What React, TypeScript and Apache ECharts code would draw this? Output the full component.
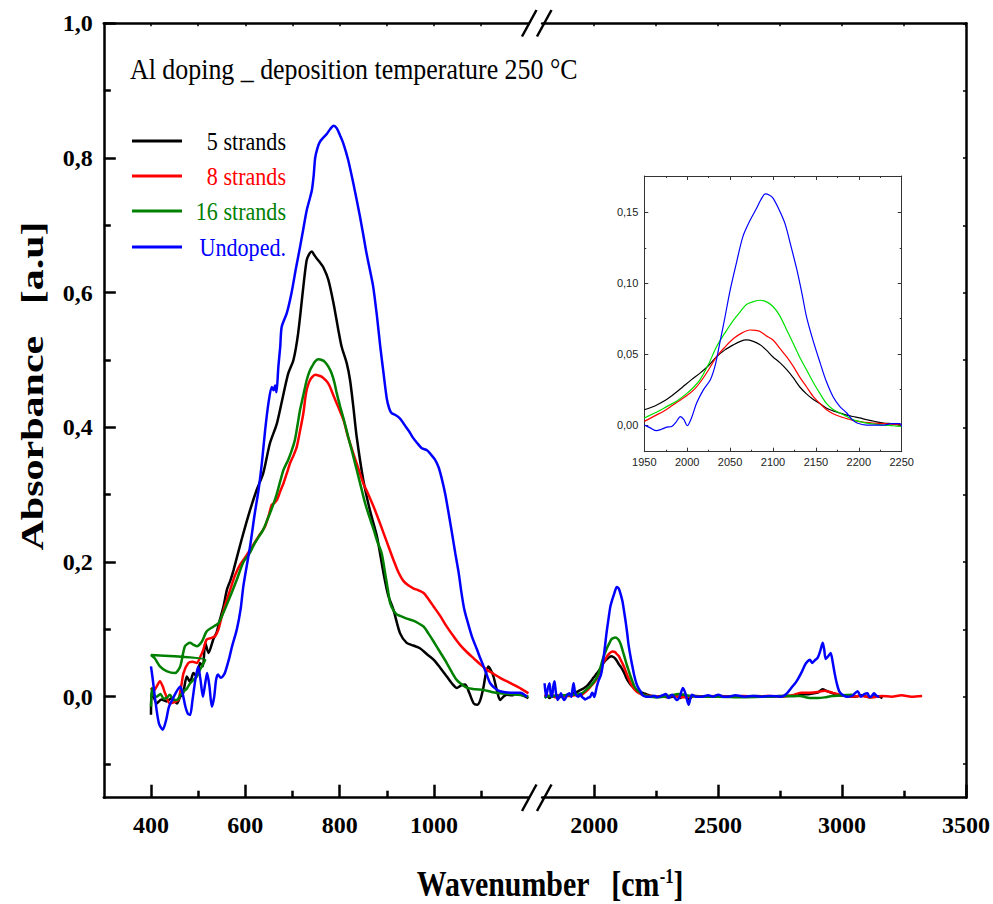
import React, { useEffect, useRef } from "react";
import * as echarts from "echarts";

// ---------- names / colours ----------
const seriesNames = ["5 strands", "8 strands", "16 strands", "Undoped."];
const mainColors = ["#000000", "#ff0000", "#008000", "#0000ff"];
const insetColors = ["#000000", "#ff0000", "#00e000", "#0000ff"];

// ---------- tick values ----------
const yMainTicks = [0, 0.2, 0.4, 0.6, 0.8, 1.0];
const yMainMinor = [-0.1, 0.1, 0.3, 0.5, 0.7, 0.9];
const xLeftTicks = [400, 600, 800, 1000];
const xLeftMinor = [500, 700, 900, 1100];
const xRightTicks = [2000, 2500, 3000, 3500];
const xRightMinor = [2250, 2750, 3250];
const insetYTicks = [0, 0.05, 0.1, 0.15];
const insetYMinor = [0.025, 0.075, 0.125];

// ---------- 5 strands ----------
const s5Left: [number, number][] = [
  [400, -0.027], [402, 0.008], [412, -0.01], [422, -0.004], [433, -0.007], [444, -0.002], [455, -0.01],
  [462, 0.0], [468, 0.005], [476, 0.03], [483, 0.022], [490, 0.035], [497, 0.03], [504, 0.05], [510, 0.045],
  [515, 0.08], [522, 0.065], [532, 0.085], [539, 0.095], [546, 0.114], [554, 0.135], [561, 0.159], [568, 0.172],
  [575, 0.188], [592, 0.233], [610, 0.277], [624, 0.307], [638, 0.332], [652, 0.376], [667, 0.406], [681, 0.45],
  [691, 0.48], [702, 0.5], [712, 0.54], [723, 0.609], [730, 0.648], [736, 0.658], [741, 0.661], [746, 0.656],
  [751, 0.651], [758, 0.645], [765, 0.638], [776, 0.619], [787, 0.584], [797, 0.545], [804, 0.52], [815, 0.495],
  [822, 0.47], [829, 0.43], [836, 0.386], [850, 0.322], [864, 0.277], [879, 0.238], [893, 0.183], [903, 0.15],
  [914, 0.129], [928, 0.094], [942, 0.08], [956, 0.076], [970, 0.072], [985, 0.063], [999, 0.055], [1013, 0.043],
  [1027, 0.03], [1040, 0.018], [1048, 0.013], [1058, 0.017], [1066, 0.018], [1075, 0.005], [1084, -0.01],
  [1091, -0.012], [1098, -0.005], [1105, 0.015], [1110, 0.035], [1115, 0.045], [1120, 0.04], [1126, 0.03],
  [1133, 0.01], [1140, -0.005], [1147, 0.0], [1154, 0.003], [1165, 0.002], [1175, 0.005], [1188, 0.002], [1200, -0.002],
];
const s5RightPre: [number, number][] = [
  [1800, 0.0], [1810, 0.002], [1820, -0.002], [1830, 0.001], [1840, 0.0], [1850, 0.002], [1860, -0.001],
  [1870, 0.002], [1880, 0.001], [1890, 0.003], [1900, 0.002], [1913, 0.005], [1925, 0.006], [1940, 0.009],
];
const s5Band: [number, number][] = [
  [1950, 0.0108], [1964, 0.014], [1976, 0.018], [1985, 0.022], [1995, 0.027], [2005, 0.032], [2015, 0.0366],
  [2025, 0.042], [2034, 0.048], [2044, 0.053], [2054, 0.0566], [2062, 0.059], [2069, 0.06], [2077, 0.059],
  [2085, 0.0566], [2092, 0.053], [2100, 0.048], [2108, 0.044], [2116, 0.039], [2124, 0.033], [2131, 0.027],
  [2139, 0.022], [2147, 0.018], [2155, 0.015], [2162, 0.012], [2170, 0.01], [2178, 0.0085], [2186, 0.007],
  [2193, 0.006], [2201, 0.005], [2209, 0.0038], [2219, 0.0025], [2229, 0.0014], [2240, 0.001], [2250, 0.0],
];
const s5RightPost: [number, number][] = [
  [2270, 0.001], [2300, -0.001], [2330, 0.001], [2348, -0.002], [2360, 0.003], [2381, -0.004], [2400, 0.001],
  [2450, 0.0], [2500, 0.001], [2550, 0.0], [2600, 0.0], [2650, 0.001], [2700, 0.0], [2750, 0.001], [2800, 0.001],
  [2840, 0.003], [2870, 0.004], [2902, 0.006], [2922, 0.011], [2935, 0.009], [2950, 0.007], [2970, 0.004],
  [2990, 0.002], [3020, 0.001], [3050, 0.0], [3080, 0.002], [3110, -0.001], [3140, 0.001], [3163, -0.002],
];

// ---------- 8 strands ----------
const s8Left: [number, number][] = [
  [400, 0.013], [405, 0.008], [412, 0.015], [419, 0.023], [425, 0.015], [430, 0.005], [440, -0.01], [450, -0.008],
  [458, -0.005], [464, 0.015], [469, 0.035], [479, 0.05], [488, 0.052], [497, 0.05], [505, 0.06], [511, 0.07],
  [518, 0.085], [527, 0.087], [536, 0.09], [543, 0.1], [550, 0.119], [559, 0.14], [568, 0.159], [578, 0.18],
  [589, 0.196], [600, 0.207], [610, 0.218], [620, 0.229], [628, 0.238], [635, 0.245], [642, 0.253], [650, 0.27],
  [656, 0.285], [662, 0.288], [667, 0.292], [674, 0.305], [681, 0.317], [688, 0.332], [695, 0.347], [702, 0.358],
  [709, 0.371], [716, 0.395], [723, 0.421], [729, 0.452], [737, 0.47], [748, 0.478], [755, 0.477], [762, 0.475],
  [776, 0.465], [787, 0.447], [797, 0.43], [808, 0.411], [818, 0.385], [829, 0.361], [840, 0.338], [850, 0.317],
  [861, 0.3], [872, 0.282], [883, 0.262], [893, 0.243], [904, 0.222], [914, 0.203], [925, 0.184], [935, 0.172],
  [946, 0.165], [956, 0.161], [967, 0.158], [978, 0.154], [988, 0.145], [999, 0.134], [1013, 0.12], [1027, 0.104],
  [1041, 0.09], [1055, 0.077], [1070, 0.066], [1084, 0.057], [1098, 0.048], [1112, 0.04], [1126, 0.034],
  [1140, 0.028], [1154, 0.023], [1168, 0.018], [1184, 0.012], [1200, 0.005],
];
const s8RightPre: [number, number][] = [
  [1800, 0.003], [1815, 0.001], [1830, 0.002], [1845, -0.001], [1860, 0.002], [1875, 0.0], [1890, 0.001],
  [1905, 0.001], [1920, 0.002], [1935, 0.002], [1945, 0.002],
];
const s8Band: [number, number][] = [
  [1950, 0.0026], [1964, 0.007], [1976, 0.011], [1988, 0.016], [2000, 0.021], [2008, 0.025], [2015, 0.03],
  [2025, 0.039], [2034, 0.048], [2044, 0.055], [2054, 0.061], [2064, 0.065], [2073, 0.067], [2080, 0.0668],
  [2085, 0.066], [2092, 0.063], [2100, 0.06], [2108, 0.054], [2116, 0.048], [2124, 0.041], [2131, 0.034],
  [2139, 0.027], [2147, 0.02], [2155, 0.015], [2162, 0.011], [2170, 0.008], [2178, 0.006], [2186, 0.0045],
  [2193, 0.0033], [2205, 0.002], [2217, 0.0014], [2230, 0.001], [2250, 0.0],
];
const s8RightPost: [number, number][] = [
  [2280, 0.0], [2320, 0.001], [2360, -0.001], [2400, 0.001], [2450, 0.0], [2500, 0.001], [2550, 0.0],
  [2600, 0.001], [2650, 0.0], [2700, 0.001], [2750, 0.0], [2800, 0.002], [2834, 0.006], [2870, 0.006],
  [2902, 0.007], [2929, 0.009], [2950, 0.007], [2969, 0.005], [3000, 0.002], [3040, 0.0], [3080, 0.001],
  [3120, -0.001], [3160, 0.001], [3200, 0.0], [3240, 0.002], [3280, 0.0], [3323, 0.001],
];

// ---------- 16 strands ----------
const s16Left: [number, number][] = [
  [400, -0.015], [402, 0.013], [406, 0.002], [412, 0.0], [420, 0.004], [427, -0.003], [433, -0.002], [440, 0.003],
  [447, -0.004], [455, -0.005], [462, 0.002], [469, 0.008], [476, 0.012], [483, 0.02], [490, 0.025], [497, 0.03],
  [504, 0.04], [510, 0.048], [515, 0.055],
  [400, 0.062], [408, 0.057], [419, 0.045], [433, 0.038], [451, 0.035], [462, 0.045], [472, 0.075], [483, 0.08],
  [490, 0.077], [497, 0.075], [508, 0.082], [518, 0.097], [532, 0.104], [543, 0.109], [553, 0.124], [568, 0.149],
  [582, 0.174], [596, 0.2], [610, 0.214], [620, 0.228], [629, 0.238], [638, 0.248], [645, 0.26], [652, 0.272],
  [660, 0.287], [667, 0.302], [674, 0.32], [681, 0.337], [691, 0.352], [698, 0.365], [705, 0.381], [711, 0.405],
  [716, 0.426], [723, 0.448], [730, 0.47], [736, 0.483], [741, 0.49], [748, 0.498], [755, 0.501], [762, 0.5],
  [769, 0.497], [776, 0.49], [783, 0.48], [789, 0.466], [794, 0.45], [801, 0.431], [810, 0.408], [818, 0.386],
  [827, 0.362], [836, 0.337], [845, 0.312], [854, 0.287], [863, 0.267], [872, 0.248], [880, 0.23], [889, 0.213],
  [896, 0.185], [903, 0.155], [907, 0.139], [914, 0.128], [921, 0.122], [928, 0.12], [942, 0.116], [956, 0.113],
  [967, 0.109], [978, 0.104], [988, 0.094], [999, 0.082], [1013, 0.066], [1027, 0.05], [1038, 0.036],
  [1048, 0.025], [1059, 0.018], [1070, 0.013], [1088, 0.011], [1105, 0.01], [1122, 0.007], [1140, 0.005],
  [1158, 0.004], [1175, 0.003], [1188, 0.002], [1200, 0.0],
];
const s16RightPre: [number, number][] = [
  [1800, -0.002], [1815, 0.001], [1830, 0.0], [1845, 0.002], [1860, 0.001], [1875, 0.002], [1890, 0.002],
  [1905, 0.003], [1920, 0.003], [1935, 0.004], [1945, 0.0045],
];
const s16Band: [number, number][] = [
  [1950, 0.005], [1964, 0.009], [1976, 0.013], [1988, 0.017], [2000, 0.0225], [2008, 0.027], [2015, 0.032],
  [2025, 0.043], [2034, 0.055], [2044, 0.065], [2054, 0.074], [2062, 0.08], [2069, 0.085], [2077, 0.087],
  [2085, 0.088], [2092, 0.087], [2100, 0.0836], [2108, 0.077], [2116, 0.067], [2124, 0.057], [2131, 0.048],
  [2139, 0.039], [2147, 0.03], [2155, 0.022], [2162, 0.0155], [2170, 0.011], [2178, 0.0085], [2186, 0.006],
  [2193, 0.0038], [2201, 0.0025], [2209, 0.0014], [2219, 0.0006], [2229, 0.0], [2240, -0.0005], [2250, -0.001],
];
const s16RightPost: [number, number][] = [
  [2280, 0.0], [2310, 0.002], [2340, 0.004], [2360, 0.003], [2390, 0.001], [2430, 0.0], [2500, 0.0],
  [2600, -0.001], [2700, 0.0], [2780, 0.001], [2830, 0.001], [2870, -0.002], [2902, -0.002], [2930, -0.001],
  [2960, 0.001], [3000, 0.002], [3042, 0.003],
];

// ---------- Undoped ----------
const undLeft: [number, number][] = [
  [400, 0.045], [403, 0.03], [410, -0.01], [417, -0.04], [425, -0.049], [432, -0.035], [438, -0.015], [445, -0.005],
  [452, 0.005], [458, 0.012], [462, 0.015], [467, 0.005], [473, -0.015], [478, -0.025], [483, -0.027],
  [488, -0.005], [494, 0.025], [500, 0.045], [505, 0.025], [510, 0.0], [515, 0.02], [519, 0.035], [524, 0.015],
  [529, -0.015], [534, 0.0], [538, 0.025], [542, 0.033], [548, 0.028], [552, 0.03], [557, 0.036], [565, 0.055],
  [572, 0.075], [582, 0.1], [590, 0.13], [596, 0.165], [610, 0.223], [620, 0.272], [628, 0.307], [635, 0.347],
  [642, 0.396], [649, 0.436], [656, 0.46], [660, 0.455], [663, 0.462], [666, 0.452], [670, 0.49], [674, 0.52],
  [677, 0.549], [688, 0.57], [698, 0.6], [707, 0.635], [716, 0.668], [723, 0.695], [730, 0.722], [736, 0.738],
  [741, 0.752], [745, 0.775], [748, 0.8], [753, 0.815], [758, 0.824], [765, 0.83], [773, 0.836], [780, 0.843],
  [787, 0.848], [794, 0.844], [801, 0.833], [808, 0.821], [818, 0.797], [829, 0.762], [836, 0.738], [843, 0.713],
  [850, 0.686], [857, 0.658], [864, 0.634], [871, 0.609], [879, 0.565], [886, 0.52], [893, 0.48], [900, 0.442],
  [905, 0.428], [910, 0.421], [919, 0.418], [928, 0.413], [935, 0.406], [942, 0.399], [949, 0.392], [956, 0.384],
  [965, 0.376], [974, 0.369], [985, 0.366], [993, 0.36], [1002, 0.352], [1010, 0.34], [1017, 0.322], [1024, 0.3],
  [1031, 0.272], [1038, 0.243], [1045, 0.213], [1052, 0.185], [1058, 0.155], [1064, 0.13], [1070, 0.114],
  [1080, 0.09], [1091, 0.07], [1098, 0.057], [1105, 0.045], [1112, 0.032], [1119, 0.02], [1130, 0.012],
  [1140, 0.008], [1161, 0.006], [1183, 0.006], [1197, 0.0],
];
const undRightPre: [number, number][] = [
  [1800, 0.02], [1806, 0.0], [1813, 0.012], [1820, 0.02], [1825, 0.003], [1830, 0.0], [1835, 0.015], [1840, 0.023],
  [1846, 0.005], [1853, -0.005], [1860, 0.0], [1866, 0.005], [1873, -0.002], [1880, -0.005], [1890, 0.002],
  [1900, 0.005], [1908, 0.0], [1913, 0.012], [1917, 0.02], [1922, 0.008], [1927, 0.003], [1937, 0.0], [1945, 0.004],
];
const undBand: [number, number][] = [
  [1950, 0.0], [1957, -0.002], [1964, -0.004], [1970, -0.003], [1976, -0.0015], [1982, -0.001], [1987, 0.002],
  [1992, 0.006], [1996, 0.004], [2000, -0.0005], [2005, 0.005], [2011, 0.0155], [2019, 0.025], [2027, 0.032],
  [2033, 0.043], [2038, 0.058], [2044, 0.076], [2050, 0.095], [2058, 0.116], [2065, 0.133], [2073, 0.144],
  [2081, 0.153], [2086, 0.159], [2091, 0.163], [2096, 0.162], [2100, 0.16], [2107, 0.152], [2114, 0.142],
  [2121, 0.126], [2128, 0.109], [2134, 0.092], [2139, 0.0765], [2147, 0.059], [2155, 0.0437], [2162, 0.031],
  [2170, 0.02], [2178, 0.013], [2186, 0.0085], [2192, 0.004], [2198, 0.0014], [2209, 0.0], [2219, 0.0],
  [2229, 0.0], [2238, 0.001], [2248, 0.001], [2250, -0.001],
];
const undRightPost: [number, number][] = [
  [2270, 0.001], [2290, 0.004], [2300, -0.002], [2314, 0.003], [2334, -0.005], [2345, 0.0], [2358, 0.013],
  [2368, 0.005], [2381, -0.012], [2394, 0.003], [2410, 0.0], [2434, 0.0], [2460, 0.002], [2480, 0.0],
  [2501, 0.003], [2520, 0.0], [2541, 0.0], [2570, 0.002], [2608, 0.0], [2640, 0.001], [2675, 0.0], [2710, 0.001],
  [2755, 0.0], [2775, 0.004], [2795, 0.013], [2815, 0.022], [2835, 0.035], [2850, 0.047], [2860, 0.052],
  [2870, 0.055], [2880, 0.05], [2890, 0.054], [2902, 0.058], [2912, 0.068], [2922, 0.08], [2928, 0.07],
  [2934, 0.056], [2944, 0.06], [2954, 0.065], [2962, 0.052], [2970, 0.035], [2980, 0.018], [2990, 0.007],
  [3005, 0.002], [3022, 0.0], [3040, 0.001], [3063, 0.008], [3076, 0.0], [3090, 0.004], [3103, 0.005],
  [3110, 0.0], [3116, 0.0], [3129, 0.005], [3140, 0.001], [3150, 0.0],
];

const leftSets = [s5Left, s8Left, s16Left, undLeft];
const rightSets = [
  [...s5RightPre, ...s5Band, ...s5RightPost],
  [...s8RightPre, ...s8Band, ...s8RightPost],
  [...s16RightPre, ...s16Band, ...s16RightPost],
  [...undRightPre, ...undBand, ...undRightPost],
];
const bandSets = [s5Band, s8Band, s16Band, undBand];

const SERIF = "Liberation Serif";
const SANS = "Liberation Sans";
const Y_MIN = -0.15;
const Y_MAX = 1.0;
const IN_Y_MIN = -0.0188;
const IN_Y_MAX = 0.1756;

const comma1 = (v: number) => v.toFixed(1).replace(".", ",");
const comma2 = (v: number) => v.toFixed(2).replace(".", ",");
const plain = (v: number) => String(Math.round(v));

export default function App() {
  const ref = useRef<HTMLDivElement>(null);
  useEffect(() => {
    if (!ref.current) return;
    const chart = echarts.init(ref.current, undefined, { renderer: "svg" });
    const frame = { show: true, onZero: false, lineStyle: { color: "#000", width: 2.5 } };
    const noLine = { show: false, onZero: false };
    const mainLabel = { fontFamily: SERIF, fontSize: 24, fontWeight: "bold", color: "#000" };
    const inFrame = { show: true, onZero: false, lineStyle: { color: "#333", width: 1 } };
    const inTick = (vals: number[] | null, len: number) => ({
      show: true, inside: true, length: len, lineStyle: { color: "#333", width: 1 },
      ...(vals ? { customValues: vals } : {}),
    });

    const xAxis: any[] = [
      // 0 grid0 bottom major
      { type: "value", gridIndex: 0, position: "bottom", min: 300, max: 1200, axisLine: frame, splitLine: { show: false },
        axisTick: { show: true, inside: true, length: 13, customValues: xLeftTicks, lineStyle: { color: "#000", width: 2.5 } },
        axisLabel: { ...mainLabel, customValues: xLeftTicks, formatter: plain, margin: 15 } },
      // 1 grid0 bottom minor
      { type: "value", gridIndex: 0, position: "bottom", min: 300, max: 1200, axisLine: noLine, splitLine: { show: false },
        axisTick: { show: true, inside: true, length: 7, customValues: xLeftMinor, lineStyle: { color: "#000", width: 2.5 } },
        axisLabel: { show: false } },
      // 2 grid0 top
      { type: "value", gridIndex: 0, position: "top", min: 300, max: 1200, axisLine: frame, splitLine: { show: false },
        axisTick: { show: true, inside: true, length: 3, customValues: [...xLeftTicks, ...xLeftMinor], lineStyle: { color: "#000", width: 1.5 } },
        axisLabel: { show: false } },
      // 3 grid1 bottom major
      { type: "value", gridIndex: 1, position: "bottom", min: 1790, max: 3500, axisLine: frame, splitLine: { show: false },
        axisTick: { show: true, inside: true, length: 13, customValues: xRightTicks, lineStyle: { color: "#000", width: 2.5 } },
        axisLabel: { ...mainLabel, customValues: xRightTicks, formatter: plain, margin: 15 } },
      // 4 grid1 bottom minor
      { type: "value", gridIndex: 1, position: "bottom", min: 1790, max: 3500, axisLine: noLine, splitLine: { show: false },
        axisTick: { show: true, inside: true, length: 7, customValues: xRightMinor, lineStyle: { color: "#000", width: 2.5 } },
        axisLabel: { show: false } },
      // 5 grid1 top
      { type: "value", gridIndex: 1, position: "top", min: 1790, max: 3500, axisLine: frame, splitLine: { show: false },
        axisTick: { show: true, inside: true, length: 3, customValues: [...xRightTicks, ...xRightMinor], lineStyle: { color: "#000", width: 1.5 } },
        axisLabel: { show: false } },
      // 6 inset bottom
      { type: "value", gridIndex: 2, position: "bottom", min: 1950, max: 2250, interval: 50, axisLine: inFrame,
        splitLine: { show: false }, axisTick: inTick(null, 4),
        minorTick: { show: true, splitNumber: 2, length: 2, lineStyle: { color: "#333", width: 1 } },
        axisLabel: { fontFamily: SANS, fontSize: 11, color: "#222", margin: 5, formatter: plain, showMinLabel: true, showMaxLabel: true } },
      // 7 inset top
      { type: "value", gridIndex: 2, position: "top", min: 1950, max: 2250, interval: 50, axisLine: inFrame,
        splitLine: { show: false }, axisTick: inTick(null, 4),
        minorTick: { show: true, splitNumber: 2, length: 2, lineStyle: { color: "#333", width: 1 } },
        axisLabel: { show: false } },
    ];

    const yAxis: any[] = [
      // 0 grid0 left major
      { type: "value", gridIndex: 0, position: "left", min: Y_MIN, max: Y_MAX, axisLine: frame, splitLine: { show: false },
        axisTick: { show: true, inside: true, length: 12, customValues: yMainTicks, lineStyle: { color: "#000", width: 2.5 } },
        axisLabel: { ...mainLabel, customValues: yMainTicks, formatter: comma1, margin: 11 } },
      // 1 grid0 left minor
      { type: "value", gridIndex: 0, position: "left", min: Y_MIN, max: Y_MAX, axisLine: noLine, splitLine: { show: false },
        axisTick: { show: true, inside: true, length: 7, customValues: yMainMinor, lineStyle: { color: "#000", width: 2.5 } },
        axisLabel: { show: false } },
      // 2 grid1 right
      { type: "value", gridIndex: 1, position: "right", min: Y_MIN, max: Y_MAX, axisLine: frame, splitLine: { show: false },
        axisTick: { show: true, inside: true, length: 3, customValues: [...yMainTicks, ...yMainMinor], lineStyle: { color: "#000", width: 1.5 } },
        axisLabel: { show: false } },
      // 3 inset left major
      { type: "value", gridIndex: 2, position: "left", min: IN_Y_MIN, max: IN_Y_MAX, axisLine: inFrame, splitLine: { show: false },
        axisTick: inTick(insetYTicks, 4),
        axisLabel: { fontFamily: SANS, fontSize: 11, color: "#222", margin: 6, customValues: insetYTicks, formatter: comma2 } },
      // 4 inset left minor
      { type: "value", gridIndex: 2, position: "left", min: IN_Y_MIN, max: IN_Y_MAX, axisLine: noLine, splitLine: { show: false },
        axisTick: inTick(insetYMinor, 2), axisLabel: { show: false } },
      // 5 inset right major
      { type: "value", gridIndex: 2, position: "right", min: IN_Y_MIN, max: IN_Y_MAX, axisLine: inFrame, splitLine: { show: false },
        axisTick: inTick(insetYTicks, 4), axisLabel: { show: false } },
      // 6 inset right minor
      { type: "value", gridIndex: 2, position: "right", min: IN_Y_MIN, max: IN_Y_MAX, axisLine: noLine, splitLine: { show: false },
        axisTick: inTick(insetYMinor, 2), axisLabel: { show: false } },
    ];

    const series: any[] = [];
    seriesNames.forEach((name, i) => {
      series.push({
        name, type: "line", xAxisIndex: 0, yAxisIndex: 0, data: leftSets[i], symbol: "none", smooth: 0.25,
        lineStyle: { color: mainColors[i], width: 2.5 }, itemStyle: { color: mainColors[i] }, z: 2 + i,
      });
      series.push({
        name, type: "line", xAxisIndex: 3, yAxisIndex: 2, data: rightSets[i], symbol: "none", smooth: 0.25,
        lineStyle: { color: mainColors[i], width: 2.5 }, itemStyle: { color: mainColors[i] }, z: 2 + i,
      });
      series.push({
        name: name + " (inset)", type: "line", xAxisIndex: 6, yAxisIndex: 3, data: bandSets[i], symbol: "none", smooth: 0.3,
        lineStyle: { color: insetColors[i], width: 1.2 }, itemStyle: { color: insetColors[i] }, z: 2 + i,
      });
    });

    const legendY = [141, 176, 211, 247];
    const graphic: any[] = [
      {
        type: "text", x: 130, y: 70, scaleX: 0.893,
        style: { text: "Al doping _ deposition temperature 250 °C", fontFamily: SERIF, fontSize: 29,
          fill: "#000", align: "left", verticalAlign: "middle" },
      },
      {
        type: "text", x: 550, y: 884, scaleX: 0.83,
        style: {
          text: "Wavenumber   [cm{sup|-1}]", fontFamily: SERIF, fontSize: 36, fontWeight: "bold", fill: "#000",
          align: "center", verticalAlign: "middle",
          rich: { sup: { fontFamily: SERIF, fontSize: 20, fontWeight: "bold", fill: "#000", verticalAlign: "top" } },
        },
      },
      {
        type: "text", x: 32, y: 386, rotation: Math.PI / 2, scaleY: 0.76,
        style: { text: "Absorbance   [a.u]", fontFamily: SERIF, fontSize: 42, fontWeight: "bold", fill: "#000",
          align: "center", verticalAlign: "middle" },
      },
      // axis-break marks
      { type: "line", shape: { x1: 522, y1: 36.5, x2: 536.5, y2: 10 }, style: { stroke: "#000", lineWidth: 2.5 } },
      { type: "line", shape: { x1: 537, y1: 36.5, x2: 551.5, y2: 10 }, style: { stroke: "#000", lineWidth: 2.5 } },
      { type: "line", shape: { x1: 522, y1: 811, x2: 536.5, y2: 784.5 }, style: { stroke: "#000", lineWidth: 2.5 } },
      { type: "line", shape: { x1: 537, y1: 811, x2: 551.5, y2: 784.5 }, style: { stroke: "#000", lineWidth: 2.5 } },
    ];
    seriesNames.forEach((name, i) => {
      graphic.push({
        type: "line", shape: { x1: 132, y1: legendY[i], x2: 182, y2: legendY[i] },
        style: { stroke: mainColors[i], lineWidth: 3 },
      });
      graphic.push({
        type: "text", x: 286, y: legendY[i], scaleX: 0.85,
        style: { text: name, fontFamily: SERIF, fontSize: 26, fill: mainColors[i], align: "right", verticalAlign: "middle" },
      });
    });

    chart.setOption({
      animation: false,
      backgroundColor: "#ffffff",
      grid: [
        { left: 103.8, top: 23.3, width: 424.6, height: 774.4, containLabel: false },
        { left: 542.1, top: 23.3, width: 426.4, height: 774.4, containLabel: false },
        { left: 644.3, top: 176, width: 257.4, height: 275.7, containLabel: false, show: true,
          backgroundColor: "#ffffff", borderWidth: 0 },
      ],
      xAxis,
      yAxis,
      series,
      graphic,
    });
    return () => chart.dispose();
  }, []);

  return (
    <div
      ref={ref}
      style={{ position: "absolute", left: 0, top: 0, width: 993, height: 904, background: "#fff" }}
    />
  );
}
